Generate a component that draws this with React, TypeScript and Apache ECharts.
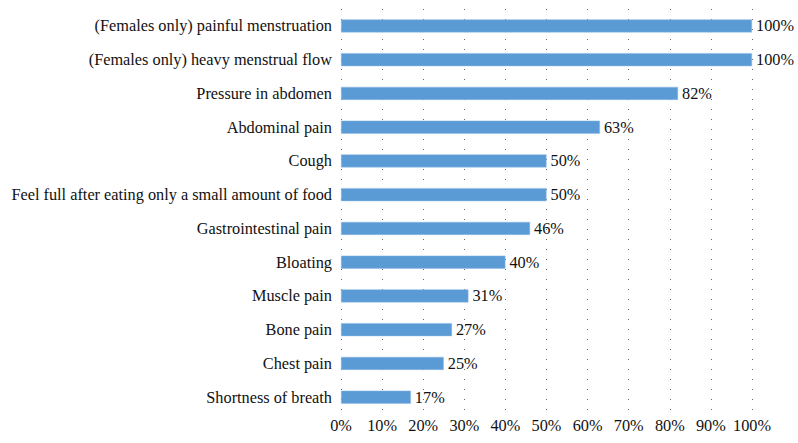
import React, { useEffect, useRef } from "react";
import * as echarts from "echarts";

const categories = [
  "(Females only) painful menstruation",
  "(Females only) heavy menstrual flow",
  "Pressure in abdomen",
  "Abdominal pain",
  "Cough",
  "Feel full after eating only a small amount of food",
  "Gastrointestinal pain",
  "Bloating",
  "Muscle pain",
  "Bone pain",
  "Chest pain",
  "Shortness of breath",
];
const values = [100, 100, 82, 63, 50, 50, 46, 40, 31, 27, 25, 17];

const FONT = "'Liberation Serif', 'Times New Roman', serif";

export default function App() {
  const ref = useRef<HTMLDivElement>(null);
  useEffect(() => {
    document.body.style.margin = "0";
    const chart = echarts.init(ref.current!, null, { renderer: "svg" });
    chart.setOption({
      animation: false,
      grid: { left: 341, right: 46, top: 9, bottom: 29, containLabel: false },
      xAxis: {
        type: "value",
        min: 0,
        max: 100,
        interval: 10,
        axisLine: { show: false },
        axisTick: { show: false },
        axisLabel: {
          formatter: "{value}%",
          fontFamily: FONT,
          fontSize: 16.3,
          color: "#111",
          margin: 3,
        },
        splitLine: {
          show: true,
          lineStyle: { color: "#666", width: 1, type: [1, 9] },
        },
      },
      yAxis: {
        type: "category",
        data: categories.slice().reverse(),
        axisLine: { show: false },
        axisTick: { show: false },
        axisLabel: {
          fontFamily: FONT,
          fontSize: 16.3,
          color: "#111",
          margin: 9,
        },
      },
      series: [
        {
          type: "bar",
          data: values.slice().reverse(),
          barWidth: 13,
          itemStyle: { color: "#5B9BD5", borderColor: "#8DBBE6", borderWidth: 0.5 },
          label: {
            show: true,
            position: "right",
            distance: 4,
            formatter: "{c}%",
            fontFamily: FONT,
            fontSize: 16.3,
            color: "#111",
          },
        },
      ],
    });
    return () => chart.dispose();
  }, []);
  return <div ref={ref} style={{ width: 798, height: 443 }} />;
}
